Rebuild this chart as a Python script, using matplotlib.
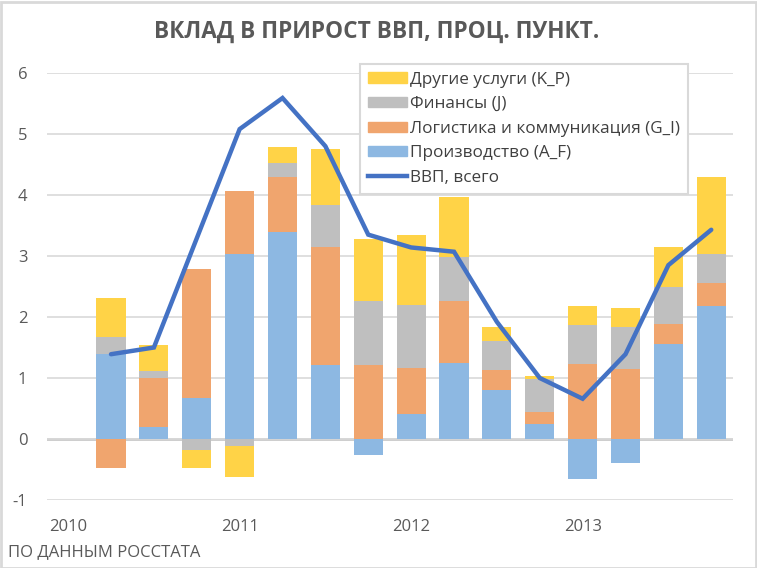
import matplotlib
matplotlib.use("Agg")
import matplotlib.pyplot as plt
import numpy as np
from matplotlib.patches import Rectangle
from matplotlib.lines import Line2D

plt.rcParams['font.family'] = ['Open Sans', 'DejaVu Sans']

quarters = ['2010Q1', '2010Q2', '2010Q3', '2010Q4',
            '2011Q1', '2011Q2', '2011Q3', '2011Q4',
            '2012Q1', '2012Q2', '2012Q3', '2012Q4',
            '2013Q1', '2013Q2', '2013Q3', '2013Q4']
year_labels = ['2010', '2011', '2012', '2013']

# NaN for 2010Q1 (no data)
prod_AF = [np.nan, 1.39, 0.19, 0.68, 3.04, 3.40, 1.21, -0.26, 0.41, 1.24, 0.80, 0.24, -0.65, -0.39, 1.56, 2.18]
logist_GI = [np.nan, -0.47, 0.81, 2.11, 1.02, 0.89, 1.93, 1.21, 0.75, 1.02, 0.33, 0.20, 1.23, 1.14, 0.33, 0.37]
fin_J = [np.nan, 0.28, 0.11, -0.18, -0.12, 0.23, 0.69, 1.05, 1.04, 0.73, 0.47, 0.54, 0.64, 0.69, 0.60, 0.49]
other_KP = [np.nan, 0.64, 0.43, -0.30, -0.51, 0.26, 0.92, 1.02, 1.15, 0.97, 0.23, 0.06, 0.31, 0.32, 0.65, 1.26]
gdp_total = [np.nan, 1.39, 1.50, 3.29, 5.08, 5.59, 4.80, 3.35, 3.14, 3.07, 1.92, 1.00, 0.66, 1.39, 2.85, 3.43]

series = [
    ('Производство (A_F)', prod_AF, '#8DB8E2'),
    ('Логистика и коммуникация (G_I)', logist_GI, '#F0A56E'),
    ('Финансы (J)', fin_J, '#BFBFBF'),
    ('Другие услуги (K_P)', other_KP, '#FFD347'),
]

fig = plt.figure(figsize=(7.57, 5.68), dpi=100)
ax = fig.add_axes([46.7/757, 1 - 500/568, (732.7-46.7)/757, (500-73)/568])

x = np.arange(len(quarters))
pos_base = np.zeros(len(x))
neg_base = np.zeros(len(x))
for name, vals, col in series:
    v = np.nan_to_num(np.array(vals, dtype=float))
    base = np.where(v >= 0, pos_base, neg_base)
    ax.bar(x, v, bottom=base, width=0.68, color=col, zorder=2, linewidth=0)
    pos_base = pos_base + np.where(v >= 0, v, 0)
    neg_base = neg_base + np.where(v < 0, v, 0)

ax.plot(x, gdp_total, color='#4472C4', lw=3.2, solid_capstyle='round',
        solid_joinstyle='miter', zorder=3)

ax.set_xlim(-0.5, 15.5)
ax.set_ylim(-1, 6)
ax.set_yticks(range(-1, 7))
ax.set_yticklabels([str(t) for t in range(-1, 7)])
ax.set_xticks([0, 4, 8, 12])
ax.set_xticklabels(year_labels)
ax.grid(axis='y', color='#D9D9D9', lw=1.2, zorder=0)
ax.axhline(0, color='#BFBFBF', lw=1.8, zorder=1.5)
for s in ax.spines.values():
    s.set_visible(False)
ax.tick_params(length=0, labelsize=12, labelcolor='#595959')
ax.tick_params(axis='y', pad=14)
ax.tick_params(axis='x', pad=14)

handles = [
    Rectangle((0, 0), 1, 1, color='#FFD347'),
    Rectangle((0, 0), 1, 1, color='#BFBFBF'),
    Rectangle((0, 0), 1, 1, color='#F0A56E'),
    Rectangle((0, 0), 1, 1, color='#8DB8E2'),
    Line2D([], [], color='#4472C4', lw=3.2),
]
labels = ['Другие услуги (K_P)', 'Финансы (J)', 'Логистика и коммуникация (G_I)',
          'Производство (A_F)', 'ВВП, всего']
leg = fig.legend(handles, labels, loc='upper left',
                 bbox_to_anchor=(360/757, 1 - 64/568), frameon=True,
                 fancybox=False, edgecolor='#D9D9D9', framealpha=1,
                 fontsize=12.3, labelcolor='#404040', handlelength=2.3,
                 handleheight=0.55, labelspacing=0.5, borderpad=0.45,
                 handletextpad=0.2, borderaxespad=0)
leg.get_frame().set_linewidth(1.5)
leg.set_zorder(5)

fig.text(377/757, 1 - 32/568, 'ВКЛАД В ПРИРОСТ ВВП, ПРОЦ. ПУНКТ.', ha='center',
         va='center', fontsize=16.3, fontweight='bold', color='#595959')
fig.text(8/757, 1 - 552/568, 'ПО ДАННЫМ РОССТАТА', ha='left', va='center',
         fontsize=12, color='#595959')

fig.patches.append(Rectangle((0.5/757, 0.5/568), 1 - 2/757, 1 - 2/568,
                             transform=fig.transFigure, fill=False,
                             edgecolor='#D9D9D9', lw=2))

fig.savefig('out.png', dpi=100)
